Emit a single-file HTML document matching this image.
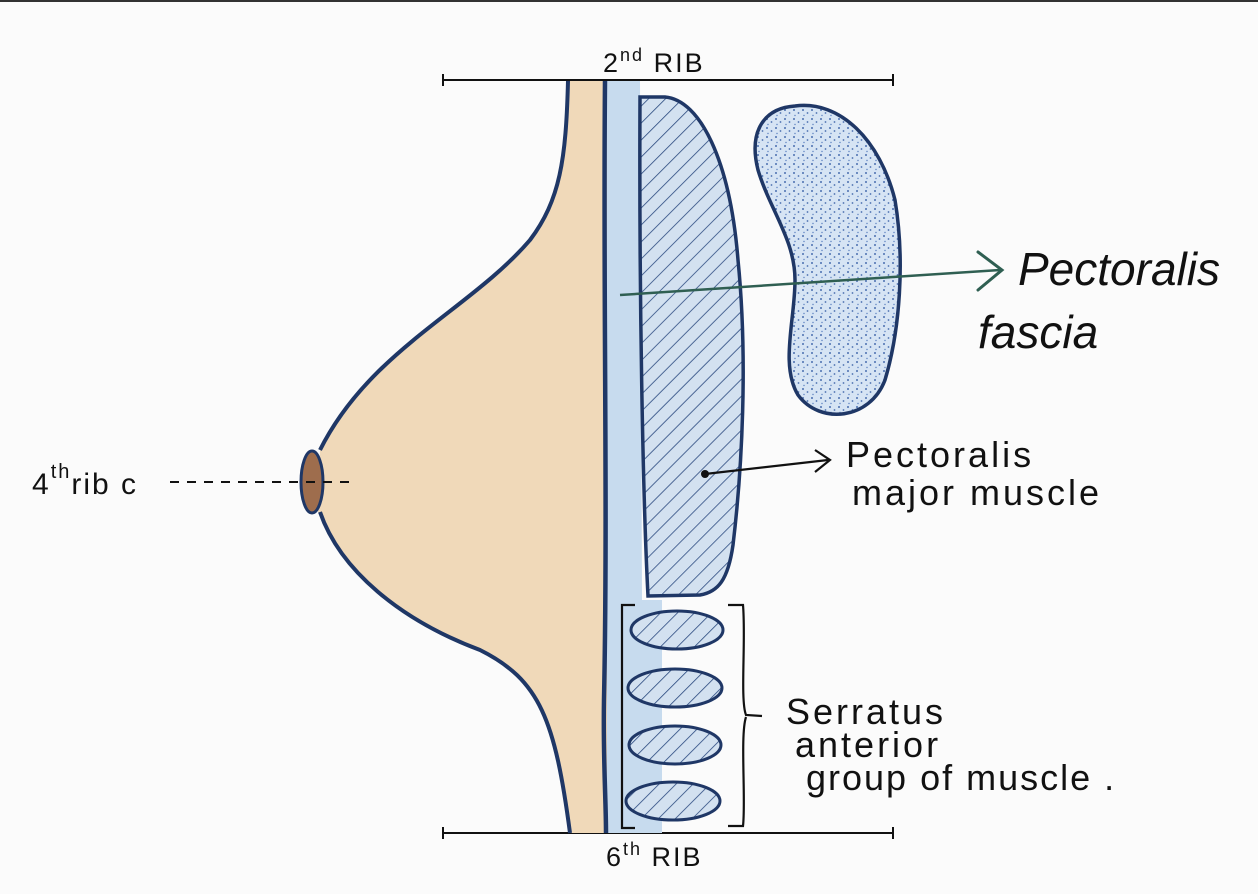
<!DOCTYPE html>
<html><head><meta charset="utf-8"><style>
html,body{margin:0;padding:0;background:#fbfbfb}
svg{display:block}
text{font-family:"Liberation Sans",sans-serif;fill:#111}
</style></head><body>
<svg width="1258" height="894" viewBox="0 0 1258 894" xmlns="http://www.w3.org/2000/svg">
<defs>
<pattern id="h" width="12" height="12" patternUnits="userSpaceOnUse" patternTransform="rotate(45)">
<rect width="12" height="12" fill="#d3e1f0"/><line x1="0" y1="0" x2="0" y2="12" stroke="#2b4a80" stroke-width="1.6"/></pattern>
<pattern id="d" width="9" height="9" patternUnits="userSpaceOnUse">
<rect width="9" height="9" fill="#d6e4f4"/><circle cx="2" cy="2" r="1" fill="#4a6fb0"/><circle cx="6.5" cy="5" r="0.9" fill="#4a6fb0"/><circle cx="3" cy="7.5" r="0.7" fill="#5a80c0"/></pattern>
</defs>
<rect width="1258" height="894" fill="#fbfbfb"/>
<line x1="0" y1="1" x2="1258" y2="1" stroke="#333" stroke-width="2"/>
<line x1="443" y1="80" x2="893" y2="80" stroke="#111" stroke-width="2"/>
<line x1="443" y1="74" x2="443" y2="86" stroke="#111" stroke-width="2"/>
<line x1="893" y1="74" x2="893" y2="86" stroke="#111" stroke-width="2"/>
<line x1="443" y1="833" x2="893" y2="833" stroke="#111" stroke-width="2"/>
<line x1="443" y1="827" x2="443" y2="839" stroke="#111" stroke-width="2"/>
<line x1="893" y1="827" x2="893" y2="839" stroke="#111" stroke-width="2"/>
<text x="603" y="72" font-size="27" letter-spacing="2">2<tspan font-size="18" dy="-11">nd</tspan><tspan dy="11"> RIB</tspan></text>
<text x="606" y="866" font-size="27" letter-spacing="2">6<tspan font-size="18" dy="-11">th</tspan><tspan dy="11"> RIB</tspan></text>
<path d="M607 81 L640 81 L642 600 L662 600 L662 833 L607 833 Z" fill="#c7dbee"/>
<path d="M568 81 C566 160 560 200 530 240 C470 310 370 350 320 450 L318 512 C340 570 400 620 480 650 C540 680 555 720 570 833 L607 833 L607 81 Z" fill="#f0d9b9" stroke="none"/>
<path d="M568 81 C566 160 560 200 530 240 C470 310 370 350 320 450 M320 512 C340 570 400 620 480 650 C540 680 555 720 570 833" fill="none" stroke="#1f3766" stroke-width="4"/>
<path d="M605 81 C603 300 608 500 604 700 C603 760 606 800 606 833" fill="none" stroke="#1f3766" stroke-width="4.5"/>
<ellipse cx="312" cy="482" rx="11" ry="31" fill="#9e6d4d" stroke="#1f3766" stroke-width="3"/>
<line x1="170" y1="482" x2="352" y2="482" stroke="#111" stroke-width="2" stroke-dasharray="9,8"/>
<text x="32" y="494" font-size="30" letter-spacing="2">4<tspan font-size="20" dy="-16">th</tspan><tspan dy="16">rib c</tspan></text>
<path d="M640 97 L665 97 C700 100 730 160 738 260 C748 360 742 470 733 545 C728 580 718 592 700 595 L648 596 C643 500 639 300 640 97 Z" fill="url(#h)" stroke="#1f3766" stroke-width="3.5"/>
<path d="M795 106 C840 100 880 140 895 200 C905 260 900 330 885 380 C870 420 820 425 798 395 C780 365 795 320 795 280 C795 240 770 210 758 170 C748 130 765 108 795 106 Z" fill="url(#d)" stroke="#1f3766" stroke-width="3.5"/>
<path d="M620 295 L1000 270" stroke="#2f5f52" stroke-width="2.5" fill="none"/>
<path d="M978 252 L1002 270 L978 290" stroke="#2f5f52" stroke-width="3" fill="none" stroke-linecap="round"/>
<text x="1018" y="285" font-size="46" font-family="Liberation Serif" font-style="italic">Pectoralis</text>
<text x="978" y="348" font-size="46" font-family="Liberation Serif" font-style="italic">fascia</text>
<circle cx="705" cy="474" r="4" fill="#111"/>
<line x1="705" y1="474" x2="828" y2="460" stroke="#111" stroke-width="2.2"/>
<path d="M815 450 L830 460 L815 472" stroke="#111" stroke-width="2.2" fill="none"/>
<text x="846" y="467" font-size="36" letter-spacing="3">Pectoralis</text>
<text x="852" y="505" font-size="36" letter-spacing="3">major muscle</text>
<ellipse cx="677" cy="630" rx="46" ry="19" fill="url(#h)" stroke="#1f3766" stroke-width="3"/>
<ellipse cx="675" cy="688" rx="47" ry="19" fill="url(#h)" stroke="#1f3766" stroke-width="3"/>
<ellipse cx="675" cy="745" rx="46" ry="19" fill="url(#h)" stroke="#1f3766" stroke-width="3"/>
<ellipse cx="673" cy="801" rx="47" ry="19" fill="url(#h)" stroke="#1f3766" stroke-width="3"/>
<path d="M635 605 L622 605 L622 828 L635 828" stroke="#111" stroke-width="2.2" fill="none"/>
<path d="M728 605 L743 605 C746 640 740 700 746 715 L762 716 M746 717 C740 735 746 800 743 826 L728 826" stroke="#111" stroke-width="2.2" fill="none"/>
<text x="786" y="724" font-size="36" letter-spacing="3">Serratus</text>
<text x="795" y="757" font-size="36" letter-spacing="3">anterior</text>
<text x="806" y="790" font-size="36" letter-spacing="2">group of muscle .</text>
</svg>
</body></html>
